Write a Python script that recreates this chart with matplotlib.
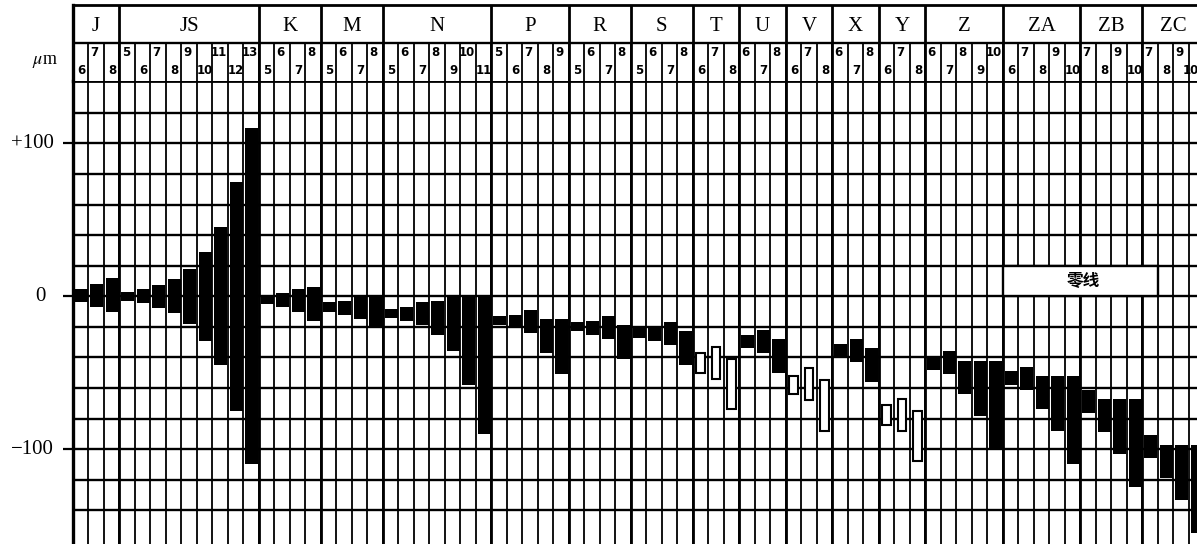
import matplotlib
matplotlib.use('Agg')
import matplotlib.pyplot as plt
import matplotlib.transforms as mtransforms
from matplotlib.patches import Rectangle
import numpy as np

# hole tolerance zones, nominal size 6-10 mm (um)
groups = ['J', 'JS', 'K', 'M', 'N', 'P', 'R', 'S', 'T', 'U', 'V', 'X', 'Y',
          'Z', 'ZA', 'ZB', 'ZC']
grades = [[6, 7, 8], [5, 6, 7, 8, 9, 10, 11, 12, 13], [5, 6, 7, 8], [5, 6, 7, 8],
          [5, 6, 7, 8, 9, 10, 11], [5, 6, 7, 8, 9], [5, 6, 7, 8], [5, 6, 7, 8],
          [6, 7, 8], [6, 7, 8], [6, 7, 8], [6, 7, 8], [6, 7, 8],
          [6, 7, 8, 9, 10], [6, 7, 8, 9, 10], [7, 8, 9, 10], [7, 8, 9, 10]]

upper = [5, 8, 12,
         3, 4.5, 7.5, 11, 18, 29, 45, 75, 110,
         1, 2, 5, 6,
         -4, -3, 0, 1,
         -8, -7, -4, -3, 0, 0, 0,
         -13, -12, -9, -15, -15,
         -17, -16, -13, -19,
         -21, -20, -17, -23,
         -37, -33, -41,
         -25, -22, -28,
         -52, -47, -55,
         -31, -28, -34,
         -71, -67, -75,
         -39, -36, -42, -42, -42,
         -49, -46, -52, -52, -52,
         -61, -67, -67, -67,
         -91, -97, -97, -97]
lower = [-4, -7, -10,
         -3, -4.5, -7.5, -11, -18, -29, -45, -75, -110,
         -5, -7, -10, -16,
         -10, -12, -15, -21,
         -14, -16, -19, -25, -36, -58, -90,
         -19, -21, -24, -37, -51,
         -23, -25, -28, -41,
         -27, -29, -32, -45,
         -50, -54, -74,
         -34, -37, -50,
         -64, -68, -88,
         -40, -43, -56,
         -84, -88, -108,
         -48, -51, -64, -78, -100,
         -58, -61, -74, -88, -110,
         -76, -89, -103, -125,
         -106, -119, -133, -155]
open_groups = ['T', 'V', 'Y']   # drawn as hollow boxes
ytick_vals = [100, 0, -100]
ytick_labels = ['+100', '0', '\u2212100']

plt.rcParams['mathtext.fontset'] = 'stix'

W, H = 1197, 544
x0 = 72.7
colw = 15.5
hdr_bot, hdr_top = 80.7, 5
ylo, yhi = -162, 141

sizes = [len(g) for g in grades]
starts = np.concatenate([[0], np.cumsum(sizes)])
ncol = starts[-1]
xmax = (W - x0) / colw

fig = plt.figure(figsize=(W / 100, H / 100), dpi=100)
ax = fig.add_axes([x0 / W, 0, 1 - x0 / W, (H - hdr_bot) / H])
hx = fig.add_axes([x0 / W, (H - hdr_bot) / H, 1 - x0 / W, (hdr_bot - hdr_top) / H])

# ---- main grid
ax.set_xlim(0, xmax)
ax.set_ylim(ylo, yhi)
ax.vlines(np.arange(1, ncol), ylo, yhi, color='k', lw=1.3, zorder=1)
ax.vlines(starts[1:-1], ylo, yhi, color='k', lw=2.0, zorder=1)
ax.hlines(np.arange(-140, 121, 20), 0, xmax, color='k', lw=1.7, zorder=1)

up = np.array(upper, float)
lo = np.array(lower, float)
col_group = np.repeat(groups, sizes)
hollow = np.isin(col_group, open_groups)
xs = np.arange(ncol)

ax.bar(xs[~hollow] + 0.55, (up - lo)[~hollow], bottom=lo[~hollow], width=0.85,
       color='black', edgecolor='none', zorder=3)
ax.bar(xs[hollow] + 0.5, (up - lo)[hollow], bottom=lo[hollow], width=0.56,
       color='white', edgecolor='black', lw=1.5, zorder=3)

# zero line tag
za = starts[groups.index('ZA')]
ax.add_patch(Rectangle((za, 0), 10, 20, facecolor='white', edgecolor='black',
                       lw=1.7, zorder=2))
ax.text(za + 5.2, 10, '零线', family=['Noto Sans CJK SC'], fontweight='bold',
        fontsize=12, ha='center', va='center', zorder=4)

for s in ['right', 'bottom']:
    ax.spines[s].set_visible(False)
ax.spines['left'].set_linewidth(2.4)
ax.spines['top'].set_linewidth(2.0)
ax.set_xticks([])
ax.set_yticks(ytick_vals)
ax.set_yticklabels([''] * len(ytick_vals))
ax.tick_params(axis='y', direction='out', length=7, width=1.6)

trans = mtransforms.blended_transform_factory(fig.transFigure, ax.transData)
label_x = [32, 40.5, 32.5]
for v, t, lx in zip(ytick_vals, ytick_labels, label_x):
    ax.text(lx / W, v, t, transform=trans, ha='center', va='center',
            family='Liberation Serif', fontsize=15)

# ---- header
hx.set_xlim(0, xmax)
hx.set_ylim(0, 2)
hx.set_xticks([])
hx.set_yticks([])
hx.axhline(1, color='k', lw=1.7)
hx.vlines(np.arange(1, ncol), 0, 1, color='k', lw=1.3)
hx.vlines(starts[1:-1], 0, 2, color='k', lw=2.0)
for s in ['right', 'bottom']:
    hx.spines[s].set_visible(False)
hx.spines['left'].set_linewidth(2.4)
hx.spines['top'].set_linewidth(2.0)

for g, a, b in zip(groups, starts[:-1], starts[1:]):
    hx.text((a + b) / 2, 1.3, g, ha='center', va='baseline',
            family='Liberation Serif', fontsize=15)

i = 0
for gr in grades:
    for n in gr:
        if i % 2:
            xt, yt = i + 0.42, 0.66
        else:
            xt, yt = min(i + 0.55, xmax - 0.4), 0.19
        hx.text(xt, yt, str(n), ha='center', va='baseline',
                family=['Liberation Sans Narrow', 'DejaVu Sans'],
                fontweight='bold', fontsize=8.5)
        i += 1

fig.text(44.5 / W, (H - 64) / H, r'$\mu$m', ha='center', va='baseline',
         family='Liberation Serif', fontsize=13)

fig.savefig('out.png', dpi=100, facecolor='white')
